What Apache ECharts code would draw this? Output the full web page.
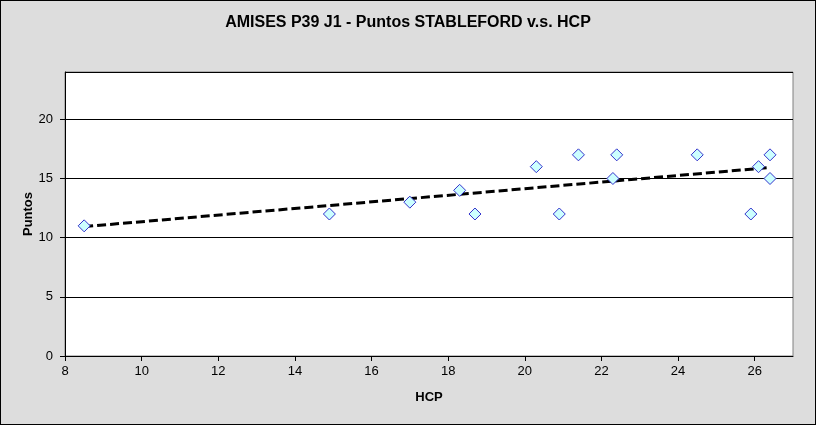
<!DOCTYPE html>
<html>
<head>
<meta charset="utf-8">
<script src="https://cdn.jsdelivr.net/npm/echarts@6/dist/echarts.min.js"></script>
<style>
html,body{margin:0;padding:0;background:#fff;}
#c{width:816px;height:425px;box-sizing:border-box;border:1px solid #000;background:#dddddd;}
</style>
</head>
<body>
<div id="c"></div>
<script>
var titleText = 'AMISES P39 J1 - Puntos STABLEFORD v.s. HCP';
var hcp = [8.5, 14.9, 17.0, 18.3, 18.7, 20.3, 20.9, 21.4, 22.3, 22.4, 24.5, 25.9, 26.1, 26.4, 26.4];
var puntos = [11, 12, 13, 14, 12, 16, 12, 17, 15, 17, 17, 12, 16, 17, 15];
var xName = 'HCP';
var yName = 'Puntos';

// linear trendline (least squares) over the data range
var n = hcp.length, mx = 0, my = 0;
for (var i = 0; i < n; i++) { mx += hcp[i]; my += puntos[i]; }
mx /= n; my /= n;
var sxy = 0, sxx = 0;
for (var i = 0; i < n; i++) { sxy += (hcp[i]-mx)*(puntos[i]-my); sxx += (hcp[i]-mx)*(hcp[i]-mx); }
var slope = sxy / sxx, icpt = my - slope*mx;
var xmin = Math.min.apply(null, hcp), xmax = Math.max.apply(null, hcp);
var trend = [[xmin, icpt + slope*xmin], [xmax, icpt + slope*xmax]];

var pts = hcp.map(function(x, i){ return [x, puntos[i]]; });

var chart = echarts.init(document.getElementById('c'), null, {renderer:'canvas'});
chart.setOption({
  animation: false,
  textStyle: {fontFamily: 'Liberation Sans, Arial, sans-serif'},
  title: {
    text: titleText, left: 'center', top: 9,
    textStyle: {fontSize: 16, fontWeight: 'bold', color: '#000', fontFamily: 'Liberation Sans, Arial, sans-serif'}
  },
  grid: {left: 64, right: 22, top: 71, bottom: 68, show: true, backgroundColor: '#ffffff', borderColor: '#808080', borderWidth: 1},
  xAxis: {
    type: 'value', min: 8, max: 27, interval: 2,
    name: xName, nameLocation: 'middle', nameGap: 35, nameMoveOverlap: false,
    nameTextStyle: {fontSize: 13, fontWeight: 'bold', color: '#000'},
    axisLine: {show: true, onZero: false, lineStyle: {color: '#000', width: 1}},
    axisTick: {show: true, inside: false, length: 5, lineStyle: {color: '#000'}},
    axisLabel: {color: '#000', fontSize: 13, margin: 9, showMaxLabel: false},
    splitLine: {show: false}
  },
  yAxis: {
    type: 'value', min: 0, max: 24, interval: 5,
    name: yName, nameLocation: 'middle', nameGap: 30, nameRotate: 90, nameMoveOverlap: false,
    nameTextStyle: {fontSize: 13, fontWeight: 'bold', color: '#000'},
    axisLine: {show: true, lineStyle: {color: '#000', width: 1}},
    axisTick: {show: true, inside: false, length: 5, lineStyle: {color: '#000'}},
    axisLabel: {color: '#000', fontSize: 13, margin: 12, showMaxLabel: false},
    splitLine: {show: true, lineStyle: {color: '#000', width: 1}}
  },
  series: [
    {
      type: 'line', data: trend, showSymbol: false, symbol: 'none', z: 3,
      lineStyle: {color: '#000', width: 3, type: [9, 4]}
    },
    {
      type: 'scatter', data: pts, symbol: 'diamond', symbolSize: 12, z: 4,
      itemStyle: {color: '#ccffff', borderColor: '#3333cc', borderWidth: 1, opacity: 1}
    }
  ]
});
</script>
</body>
</html>
